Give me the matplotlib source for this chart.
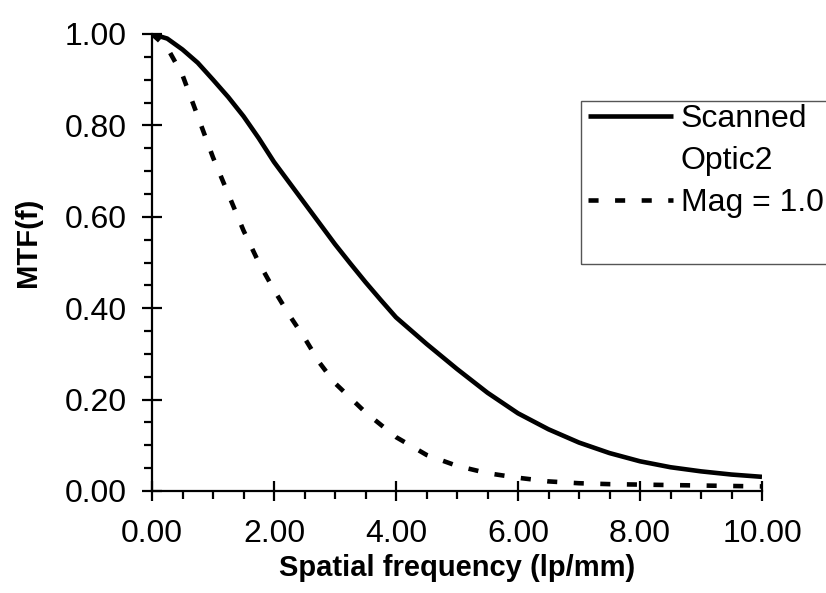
import matplotlib.pyplot as plt
from matplotlib.lines import Line2D
from matplotlib.patches import Rectangle
from matplotlib.ticker import MultipleLocator, FormatStrFormatter

plt.rcParams['font.family'] = ['Liberation Sans', 'DejaVu Sans']

# values
freq_scanned = [0.0, 0.25, 0.5, 0.75, 1.0, 1.25, 1.5, 1.75, 2.0, 2.25, 2.5, 2.75, 3.0,
                3.25, 3.5, 3.75, 4.0, 4.5, 5.0, 5.5, 6.0, 6.5, 7.0, 7.5, 8.0, 8.5,
                9.0, 9.5, 10.0]
mtf_scanned = [1.0, 0.99, 0.966, 0.937, 0.90, 0.862, 0.82, 0.772, 0.72, 0.675, 0.63,
               0.585, 0.54, 0.498, 0.457, 0.418, 0.38, 0.322, 0.267, 0.215, 0.17,
               0.135, 0.106, 0.083, 0.065, 0.052, 0.043, 0.036, 0.031]

freq_mag = [0.0, 0.25, 0.5, 0.75, 1.0, 1.25, 1.5, 1.75, 2.0, 2.25, 2.5, 2.75, 3.0,
            3.5, 4.0, 4.5, 5.0, 5.5, 6.0, 6.5, 7.0, 7.5, 8.0, 8.5, 9.0, 9.5, 10.0]
mtf_mag = [1.0, 0.97, 0.91, 0.82, 0.73, 0.65, 0.57, 0.50, 0.44, 0.385, 0.335, 0.28, 0.236,
           0.172, 0.118, 0.079, 0.055, 0.039, 0.029, 0.021, 0.017, 0.015, 0.014, 0.013,
           0.012, 0.011, 0.010]

labels = ['Scanned', 'Optic2', 'Mag = 1.0']

fig = plt.figure(figsize=(8.26, 5.93), dpi=100)
ax = fig.add_axes([152/826, 1 - 491/593, (762-152)/826, (491-34)/593])

l1, = ax.plot(freq_scanned, mtf_scanned, color='black', lw=3.3, solid_capstyle='butt',
              solid_joinstyle='round')
l2, = ax.plot(freq_mag, mtf_mag, color='black', lw=3.3, linestyle=(0, (2.2, 3.6)),
              dash_capstyle='butt')

ax.set_xlim(0, 10)
ax.set_ylim(0, 1.0)
ax.spines['top'].set_visible(False)
ax.spines['right'].set_visible(False)
for s in ['left', 'bottom']:
    ax.spines[s].set_linewidth(1.6)

ax.xaxis.set_major_locator(MultipleLocator(2))
ax.xaxis.set_minor_locator(MultipleLocator(0.5))
ax.yaxis.set_major_locator(MultipleLocator(0.2))
ax.yaxis.set_minor_locator(MultipleLocator(0.05))
ax.xaxis.set_major_formatter(FormatStrFormatter('%.2f'))
ax.yaxis.set_major_formatter(FormatStrFormatter('%.2f'))

ax.tick_params(which='major', direction='inout', length=14, width=1.6, labelsize=23)
ax.tick_params(which='minor', direction='out', length=6, width=1.6)
ax.tick_params(axis='x', which='major', pad=13)
ax.tick_params(axis='y', which='major', pad=11)

ax.set_xlabel('Spatial frequency (lp/mm)', fontsize=21, fontweight='bold', labelpad=4)
ax.set_ylabel('MTF(f)', fontsize=21, fontweight='bold')
ax.yaxis.set_label_coords(-0.18, 0.545)

blank = Line2D([], [], linestyle='none')
leg = ax.legend([l1, blank, l2], labels, loc='upper left',
                bbox_to_anchor=(588/826, 1 - 104/593), bbox_transform=fig.transFigure,
                frameon=False, fontsize=23, handlelength=2.65, handletextpad=0.25,
                labelspacing=0.38, borderpad=0.0, borderaxespad=0)
fig.patches.append(Rectangle((581/826, 1 - 264/593), 0.5, (264-101)/593,
                             transform=fig.transFigure, fill=False,
                             edgecolor='#555555', lw=1))

fig.savefig('out.png', dpi=100)
